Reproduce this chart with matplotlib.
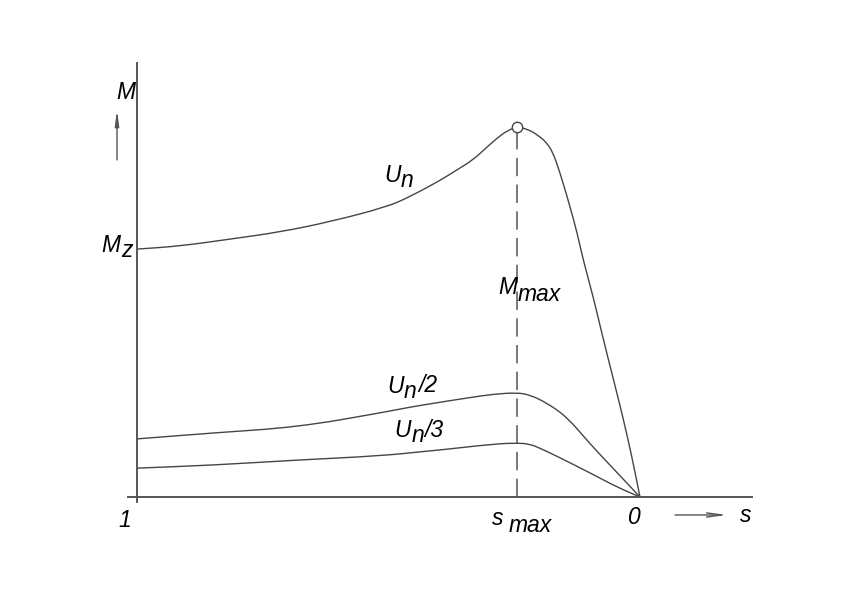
import matplotlib
matplotlib.use("Agg")
import matplotlib.pyplot as plt
from matplotlib.path import Path
from matplotlib.patches import PathPatch

# torque-slip curves (s: slip, M: torque relative to M_max)
s_un = [1.0, 0.915, 0.815, 0.716, 0.616, 0.503, 0.457, 0.398, 0.364, 0.332, 0.304,
        0.284, 0.264, 0.245, 0.223, 0.203, 0.185, 0.173, 0.163, 0.153, 0.139, 0.125,
        0.113, 0.093, 0.074, 0.054, 0.034, 0.016, 0.0]
m_un = [0.670, 0.678, 0.697, 0.716, 0.744, 0.784, 0.812, 0.855, 0.884, 0.911, 0.946,
        0.970, 0.990, 1.0, 0.994, 0.978, 0.957, 0.930, 0.892, 0.849, 0.784, 0.714,
        0.641, 0.541, 0.432, 0.324, 0.216, 0.108, 0.0]

s_un2 = [1.0, 0.85, 0.68, 0.517, 0.457, 0.398, 0.332, 0.29, 0.245, 0.219, 0.185, 0.145,
         0.099, 0.054, 0.0]
m_un2 = [0.157, 0.173, 0.189, 0.227, 0.243, 0.256, 0.270, 0.278, 0.282, 0.276, 0.254, 0.216,
         0.143, 0.078, 0.0]

s_un3 = [1.0, 0.85, 0.68, 0.517, 0.423, 0.398, 0.292, 0.245, 0.219, 0.199, 0.165,
         0.099, 0.046, 0.0]
m_un3 = [0.078, 0.086, 0.100, 0.111, 0.124, 0.127, 0.143, 0.146, 0.143, 0.132, 0.110,
         0.065, 0.027, 0.0]

s_max = 0.245
m_max = 1.0

line_col = "#454545"
axis_col = "#555555"
font = dict(family="Liberation Sans", style="italic", fontsize=16.5, color="black")


def smooth_line(ax, xs, ys, **kw):
    # quadratic bezier through the midpoints, control points = read values
    verts = [(xs[0], ys[0])]
    codes = [Path.MOVETO]
    for i in range(1, len(xs) - 1):
        if i == 1:
            verts.append(((xs[0] + xs[1]) / 2, (ys[0] + ys[1]) / 2))
            codes.append(Path.LINETO)
        verts.append((xs[i], ys[i]))
        verts.append(((xs[i] + xs[i + 1]) / 2, (ys[i] + ys[i + 1]) / 2))
        codes += [Path.CURVE3, Path.CURVE3]
    verts.append((xs[-1], ys[-1]))
    codes.append(Path.LINETO)
    ax.add_patch(PathPatch(Path(verts, codes), fill=False, **kw))


fig = plt.figure(figsize=(8.5, 6), dpi=100)
ax = fig.add_axes([0, 0, 1, 1])
ax.set_xlim(1.2724, -0.4175)
ax.set_ylim(-0.2784, 1.3432)
ax.axis("off")

# axes drawn by hand
ax.plot([1.0, 1.0], [-0.0135, 1.173], color=axis_col, lw=1.4)
ax.plot([1.018, -0.2227], [0, 0], color=axis_col, lw=1.4)

# curves
smooth_line(ax, s_un, m_un, edgecolor=line_col, lw=1.0)
smooth_line(ax, s_un2, m_un2, edgecolor=line_col, lw=1.0)
smooth_line(ax, s_un3, m_un3, edgecolor=line_col, lw=1.0)

# breakdown torque marker + dashed line
dash, = ax.plot([s_max, s_max], [0, m_max], color=axis_col, lw=1.1)
dash.set_dashes((12, 5.5))
ax.plot([s_max], [m_max], "o", ms=7.5, mfc="white", mec=line_col, mew=1.0, zorder=5)

# arrows
ax.annotate("", xy=(1.0398, 1.046), xytext=(1.0398, 0.911),
            arrowprops=dict(arrowstyle="-|>,head_length=0.9,head_width=0.12",
                            color=axis_col, lw=1.0, shrinkA=0, shrinkB=0))
ax.annotate("", xy=(-0.173, -0.0486), xytext=(-0.0696, -0.0486),
            arrowprops=dict(arrowstyle="->,head_length=1.1,head_width=0.15",
                            color=axis_col, lw=1.0, shrinkA=0, shrinkB=0))

# labels
ax.text(1.0417, 1.0757, "M", ha="left", va="baseline", **font)
ax.text(1.0716, 0.662, "M", ha="left", va="baseline", **font)
ax.text(1.0318, 0.649, "z", ha="left", va="baseline", **font)

ax.text(0.509, 0.851, "U", ha="left", va="baseline", **font)
ax.text(0.475, 0.838, "n", ha="left", va="baseline", **font)

ax.text(0.281, 0.549, "M", ha="left", va="baseline", **font)
ax.text(0.2425, 0.530, "max", ha="left", va="baseline", **font)

ax.text(0.503, 0.281, "U", ha="left", va="baseline", **font)
ax.text(0.469, 0.268, "n", ha="left", va="baseline", **font)
ax.text(0.441, 0.284, "/2", ha="left", va="baseline", **font)

ax.text(0.489, 0.162, "U", ha="left", va="baseline", **font)
ax.text(0.455, 0.149, "n", ha="left", va="baseline", **font)
ax.text(0.429, 0.162, "/3", ha="left", va="baseline", **font)

ax.text(1.0378, -0.081, "1", ha="left", va="baseline", **font)
ax.text(0.294, -0.0757, "s", ha="left", va="baseline", **font)
ax.text(0.262, -0.0946, "max", ha="left", va="baseline", **font)
ax.text(0.0239, -0.073, "0", ha="left", va="baseline", **font)
ax.text(-0.199, -0.0676, "s", ha="left", va="baseline", **font)

fig.savefig("out.png", dpi=100, facecolor="white")
